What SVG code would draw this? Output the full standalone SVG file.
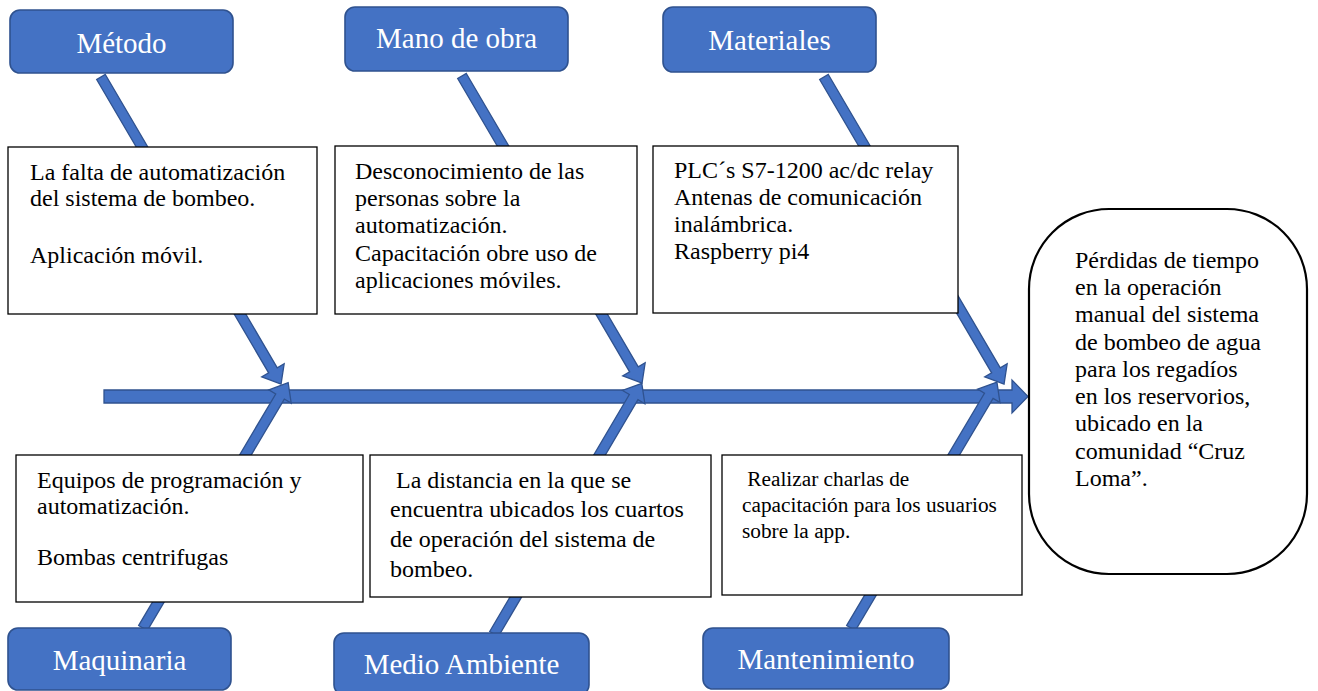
<svg xmlns="http://www.w3.org/2000/svg" width="1318" height="691" viewBox="0 0 1318 691">
<style>
.arr{fill:#4472C4;stroke:#2F528F;stroke-width:1.3;stroke-linejoin:miter}
.cat rect{fill:#4472C4;stroke:#2F528F;stroke-width:1.6}
.cat text{fill:#fff;font-size:29px;text-anchor:middle}
.box rect{fill:#fff;stroke:#000;stroke-width:1.3}
.box text{fill:#000;font-size:24px}
.box text.sm{font-size:21.3px}
.res rect{fill:#fff;stroke:#000;stroke-width:2.2}
.res text{fill:#000;font-size:24px}
</style>
<defs>
<path id="topArrow" d="M0,-5 L340,-5 L340,-13 L356,0 L340,13 L340,5 L0,5 Z"/>
</defs>
<rect width="1318" height="691" fill="#fff"/>
<g id="connectors">
<path id="spine" class="arr" d="M104,390 H1012 V380 L1028,396.5 L1012,413 V403 H104 Z"/>
<use href="#topArrow" class="arr" transform="translate(101,77) rotate(59.62)"/>
<use href="#topArrow" class="arr" transform="translate(462,76) rotate(59.62)"/>
<use href="#topArrow" class="arr" transform="translate(824,77) rotate(59.62)"/>
<path class="arr" transform="translate(143,628) rotate(-59.38)" d="M0,-5 L269,-5 L269,-13 L285,0 L269,13 L269,5 L0,5 Z"/>
<path class="arr" transform="translate(494,634) rotate(-59.48)" d="M0,-5 L275,-5 L275,-13 L291,0 L275,13 L275,5 L0,5 Z"/>
<path class="arr" transform="translate(851,628) rotate(-59.32)" d="M0,-5 L270,-5 L270,-13 L286,0 L270,13 L270,5 L0,5 Z"/>
</g>
<g font-family="Liberation Serif, Times New Roman, Tinos, serif">
<g id="box-metodo" class="box">
<rect x="8" y="147" width="309" height="167"/>
<text x="30" y="180">La falta de automatización</text>
<text x="30" y="206">del sistema de bombeo.</text>
<text x="30" y="263">Aplicación móvil.</text>
</g>
<g id="box-manodeobra" class="box">
<rect x="335" y="146" width="302" height="168"/>
<text x="355" y="179">Desconocimiento de las</text>
<text x="355" y="206">personas sobre la</text>
<text x="355" y="233">automatización.</text>
<text x="355" y="261">Capacitación obre uso de</text>
<text x="355" y="288">aplicaciones móviles.</text>
</g>
<g id="box-materiales" class="box">
<rect x="653" y="146" width="305" height="167"/>
<text x="674" y="178">PLC´s S7-1200 ac/dc relay</text>
<text x="674" y="205">Antenas de comunicación</text>
<text x="674" y="232">inalámbrica.</text>
<text x="674" y="259">Raspberry pi4</text>
</g>
<g id="box-maquinaria" class="box">
<rect x="16" y="455" width="347" height="147"/>
<text x="37" y="488">Equipos de programación y</text>
<text x="37" y="514">automatización.</text>
<text x="37" y="565">Bombas centrifugas</text>
</g>
<g id="box-medioambiente" class="box">
<rect x="370" y="455" width="341" height="142"/>
<text x="390" y="488" xml:space="preserve"> La distancia en la que se</text>
<text x="390" y="517">encuentra ubicados los cuartos</text>
<text x="390" y="547">de operación del sistema de</text>
<text x="390" y="577">bombeo.</text>
</g>
<g id="box-mantenimiento" class="box">
<rect x="722" y="455" width="300" height="140"/>
<text x="742" y="486" class="sm" xml:space="preserve"> Realizar charlas de</text>
<text x="742" y="512" class="sm">capacitación para los usuarios</text>
<text x="742" y="538" class="sm">sobre la app.</text>
</g>
<g id="cat-metodo" class="cat">
<rect x="10" y="10" width="223" height="63" rx="10"/>
<text x="121.5" y="53">Método</text>
</g>
<g id="cat-manodeobra" class="cat">
<rect x="345" y="7" width="223" height="64" rx="10"/>
<text x="456.5" y="48">Mano de obra</text>
</g>
<g id="cat-materiales" class="cat">
<rect x="663" y="7" width="213" height="65" rx="10"/>
<text x="769.5" y="50">Materiales</text>
</g>
<g id="cat-maquinaria" class="cat">
<rect x="8" y="628" width="223" height="62" rx="10"/>
<text x="119.5" y="670">Maquinaria</text>
</g>
<g id="cat-medioambiente" class="cat">
<rect x="334" y="633" width="255" height="62" rx="10"/>
<text x="461.5" y="674">Medio Ambiente</text>
</g>
<g id="cat-mantenimiento" class="cat">
<rect x="703" y="628" width="246" height="61" rx="10"/>
<text x="826" y="669">Mantenimiento</text>
</g>
<g id="result" class="res">
<rect x="1029" y="209" width="278" height="365" rx="80" ry="80"/>
<text x="1075" y="268">Pérdidas de tiempo</text>
<text x="1075" y="295">en la operación</text>
<text x="1075" y="322">manual del sistema</text>
<text x="1075" y="350">de bombeo de agua</text>
<text x="1075" y="377">para los regadíos</text>
<text x="1075" y="404">en los reservorios,</text>
<text x="1075" y="431">ubicado en la</text>
<text x="1075" y="459">comunidad “Cruz</text>
<text x="1075" y="486">Loma”.</text>
</g>
</g>
</svg>
